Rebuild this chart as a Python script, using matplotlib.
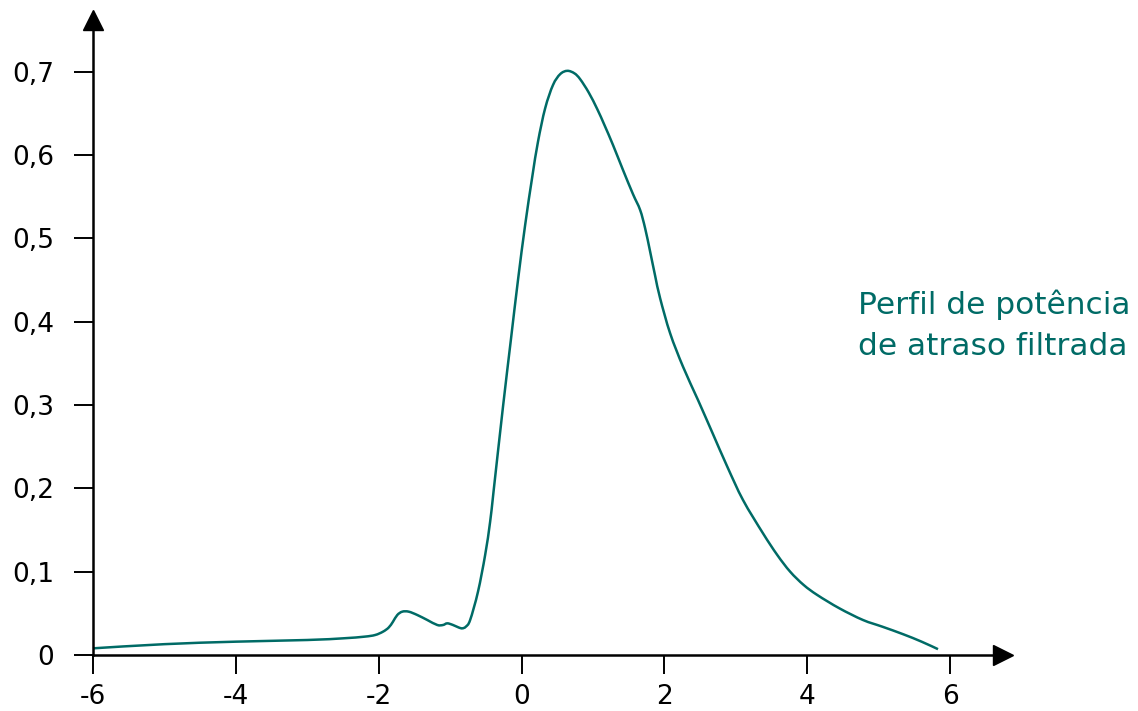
import numpy as np
import matplotlib.pyplot as plt
from matplotlib.path import Path
from matplotlib.patches import PathPatch

# filtered power delay profile, read point by point
delay = [-6.0, -5.0, -4.0, -3.0, -2.5, -2.2, -2.05, -1.94, -1.86, -1.8, -1.74, -1.67,
         -1.58, -1.46, -1.32, -1.18, -1.10, -1.04, -0.96, -0.88, -0.83, -0.78, -0.72,
         -0.61, -0.51, -0.44, -0.39, -0.26, -0.15, -0.05, 0.05, 0.15, 0.23, 0.33,
         0.44, 0.54, 0.64, 0.74, 0.82, 0.94, 1.06, 1.16, 1.28, 1.42, 1.56, 1.66, 1.73,
         1.80, 1.87, 1.94, 2.08, 2.26, 2.47, 2.67, 2.88, 3.10, 3.38, 3.58, 3.76, 3.95,
         4.14, 4.45, 4.78, 5.05, 5.34, 5.6, 5.83]
power = [0.008, 0.013, 0.016, 0.018, 0.020, 0.022, 0.024, 0.028, 0.033, 0.040, 0.048, 0.052,
         0.052, 0.048, 0.042, 0.036, 0.036, 0.038, 0.036, 0.033, 0.032, 0.034, 0.042,
         0.076, 0.120, 0.160, 0.198, 0.298, 0.378, 0.450, 0.516, 0.574, 0.616, 0.656,
         0.684, 0.697, 0.701, 0.698, 0.691, 0.675, 0.655, 0.636, 0.612, 0.582, 0.553, 0.534, 0.512,
         0.484, 0.455, 0.428, 0.386, 0.346, 0.306, 0.267, 0.226, 0.186, 0.146, 0.120, 0.100, 0.084,
         0.072, 0.056, 0.042, 0.034, 0.025, 0.016, 0.007]

x_ticks = [-6, -4, -2, 0, 2, 4, 6]
y_ticks = [0, 0.1, 0.2, 0.3, 0.4, 0.5, 0.6, 0.7]
y_labels = ['0', '0,1', '0,2', '0,3', '0,4', '0,5', '0,6', '0,7']

teal = '#006b66'


def smooth_path(xs, ys):
    # catmull-rom through every point, written as cubic bezier segments
    pts = np.column_stack([xs, ys])
    ext = np.vstack([pts[0], pts, pts[-1]])
    verts = [pts[0]]
    codes = [Path.MOVETO]
    for i in range(1, len(ext) - 2):
        p0, p1, p2, p3 = ext[i - 1], ext[i], ext[i + 1], ext[i + 2]
        verts += [p1 + (p2 - p0) / 6, p2 - (p3 - p1) / 6, p2]
        codes += [Path.CURVE4] * 3
    return Path(verts, codes)


fig = plt.figure(figsize=(11.38, 7.11), dpi=100)
ax = fig.add_axes([93 / 1138, 1 - 655 / 711, 910 / 1138, 635 / 711])

ax.add_patch(PathPatch(smooth_path(delay, power), fill=False, edgecolor=teal,
                       lw=1.8, clip_on=False))

ax.set_xlim(-6, 6.74)
ax.set_ylim(0, 0.762)

for side in ['top', 'right']:
    ax.spines[side].set_visible(False)
for side in ['left', 'bottom']:
    ax.spines[side].set_linewidth(1.8)

# arrow heads at the end of each axis
ax.plot(1, 0, '>k', ms=14, transform=ax.transAxes, clip_on=False)
ax.plot(0, 1, '^k', ms=14, transform=ax.transAxes, clip_on=False)

ax.set_xticks(x_ticks)
ax.set_xticklabels([str(t) for t in x_ticks])
ax.set_yticks(y_ticks)
ax.set_yticklabels(y_labels)
ax.tick_params(axis='both', direction='out', length=14, width=1.4, labelsize=19)
ax.tick_params(axis='x', pad=7)
ax.tick_params(axis='y', pad=14)

fig.text(858 / 1138, 1 - 289 / 711, 'Perfil de potência\nde atraso filtrada',
         color=teal, fontsize=22.5, ha='left', va='top', linespacing=1.55)

fig.savefig('out.png', dpi=100)
